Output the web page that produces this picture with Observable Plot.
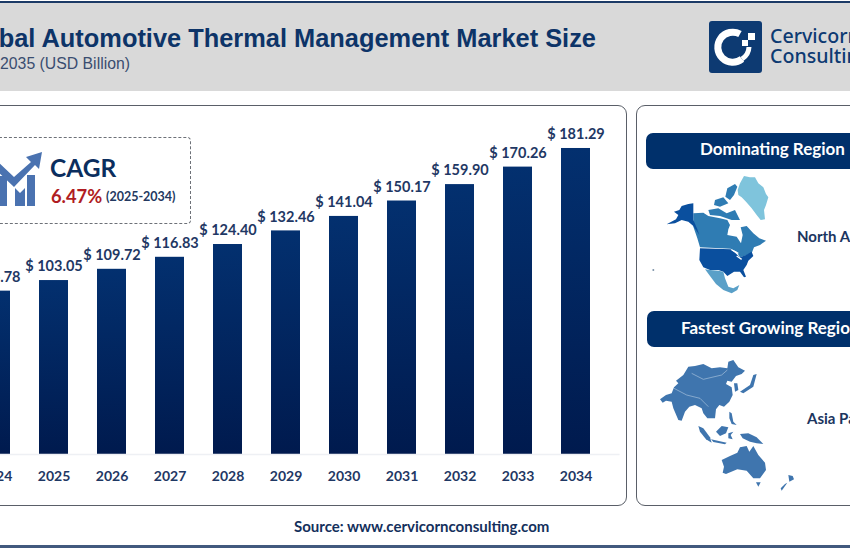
<!DOCTYPE html>
<html><head><meta charset="utf-8">
<script src="https://cdn.jsdelivr.net/npm/d3@7"></script>
<script src="https://cdn.jsdelivr.net/npm/@observablehq/plot@0.6"></script>
<style>
html,body{margin:0;padding:0;background:#fff;}
#page{position:relative;width:850px;height:550px;overflow:hidden;background:#fff;font-family:Lato,sans-serif;font-weight:700;color:#1f3864;}
#page>*{position:absolute;}
.t{white-space:nowrap;line-height:1;}
.pill{background:#00306b;border-radius:7px;}
.panel{border:1px solid #5a5f68;border-radius:9px;box-sizing:border-box;background:#fff;}
</style></head>
<body>
<div id="page">
  <div style="left:0;top:1px;width:850px;height:2px;background:#1b3a66"></div>
  <div style="left:0;top:3px;width:850px;height:88px;background:#d9d9d9"></div>
  <div class="t" style="right:254px;top:26px;font:700 25.4px/1 'Liberation Sans';color:#0d3468">Global Automotive Thermal Management Market Size</div>
  <div class="t" style="right:720px;top:56px;font:400 15.8px/1 'Liberation Sans';color:#3a4d70">2025 to 2035 (USD Billion)</div>

  <svg style="left:709px;top:21px" width="53" height="52" viewBox="0 0 53 52">
    <rect width="53" height="52" rx="3" fill="#0d3a72"/>
    <path d="M31 13 A15 15 0 1 0 33 38" fill="none" stroke="#fff" stroke-width="7"/>
    <rect x="39" y="12" width="7" height="7" fill="#fff"/><rect x="33" y="19" width="6" height="6" fill="#fff"/>
    <path d="M40 26 A15 15 0 0 1 33 38" fill="none" stroke="#fff" stroke-width="5"/>
  </svg>
  <div class="t" style="left:770px;top:26px;font:500 19.6px/1 'Noto Sans';color:#0d3a72">Cervicorn</div>
  <div class="t" style="left:770px;top:46px;font:500 19.6px/1 'Noto Sans';color:#0d3a72">Consulting</div>

  <div class="panel" style="left:-20px;top:105px;width:647px;height:401px"></div>
  <div class="panel" style="left:636px;top:105px;width:260px;height:401px"></div>

  <svg style="width:0;height:0"><defs><linearGradient id="barFill" x1="0" y1="0" x2="0" y2="1"><stop offset="0" stop-color="#03306f"/><stop offset="1" stop-color="#001a4e"/></linearGradient></defs></svg>
  <div id="chart" style="left:-60.5px;top:0"></div>

  <div style="left:-20px;top:137px;width:209px;height:85px;border:1px dashed #6d7178;border-radius:4px;background:#fff"></div>
  <svg style="left:0;top:150px" width="44" height="60" viewBox="0 0 44 60">
    <g fill="#4a72b0">
      <rect x="-3" y="26" width="10" height="30"/><path d="M15 38 L20 43 L25 38 V56 H15Z"/><rect x="27" y="25" width="8" height="31"/>
      <path d="M-4 10 L14 27 L31 12 L26 7 L42 2 L39 19 L35 15 L14 37 L-4 20Z"/>
    </g>
  </svg>
  <div class="t" style="left:50px;top:156px;font-size:24.5px;color:#0b2e5e">CAGR</div>
  <div class="t" style="left:51px;top:187px;font-size:18.3px;color:#b01c22">6.47%</div>
  <div class="t" style="left:106px;top:191px;font-size:12.5px;color:#24395f">(2025-2034)</div>

  <div class="pill" style="left:646px;top:133px;width:260px;height:36px"></div>
  <div class="t" style="left:700px;top:140px;font-size:17px;color:#fff">Dominating Region</div>
  <div class="pill" style="left:647px;top:311px;width:260px;height:36px"></div>
  <div class="t" style="left:681px;top:319px;font-size:17px;color:#fff">Fastest Growing Region</div>

  <svg style="left:640px;top:170px" width="150" height="130" viewBox="0 0 450 390">
    <path fill="#7fc4dc" d="M293 60 300 40 312 18 330 22 345 22 355 40 370 52 378 72 385 82 378 105 372 120 375 148 362 150 350 135 335 115 318 95 305 82 295 75Z"/>
    <g fill="#2f7cb3">
      <path d="M262 55 285 42 292 50 282 75 270 90 256 80Z"/>
      <path d="M225 90 250 82 265 100 240 110 222 105Z"/>
      <path d="M205 120 235 115 260 130 285 120 300 150 275 150 240 138 210 135Z"/>
      <path d="M160 130 190 128 205 138 240 145 262 150 270 165 265 178 262 195 290 200 303 220 308 195 302 172 320 168 340 190 358 205 378 212 360 225 342 232 335 250 312 258 300 262 290 245 272 236 180 232 172 205 160 170Z"/>
    </g>
    <path fill="#0a4f9e" d="M102 125 118 120 125 108 145 102 160 100 160 150 172 178 178 195 160 168 145 155 125 150 105 160 80 163 108 148 115 135Z"/>
    <path fill="#0a4f9e" d="M180 235 272 238 285 248 300 262 318 255 335 245 340 258 325 272 320 285 310 300 318 320 312 322 300 305 282 305 262 318 250 305 235 300 210 300 190 292 178 270Z"/>
    <path fill="none" stroke="#fff" stroke-width="4" d="M275 240 295 250M290 258 305 268"/>
    <path fill="#5aa0c8" d="M195 298 210 300 235 302 250 305 255 325 265 350 280 355 298 345 292 360 275 370 250 360 228 342 210 318Z"/>
    <circle cx="40" cy="300" r="3" fill="#7d93a8"/>
  </svg>
  <div class="t" style="left:797px;top:229px;font-size:15px;color:#1c3560">North America</div>

  <svg style="left:650px;top:350px" width="150" height="150" viewBox="0 0 450 450">
    <g fill="#3f75ae">
      <path d="M30 148 48 135 65 130 72 112 85 100 78 92 100 75 115 50 135 48 160 42 185 55 210 52 232 55 235 35 250 30 265 52 285 62 275 72 258 78 245 95 232 92 228 102 245 112 248 135 238 155 222 170 208 165 198 178 195 205 172 205 160 190 155 175 135 165 118 170 105 185 95 212 85 210 70 175 65 155 48 152 38 158Z"/>
      <path d="M252 100 262 100 265 120 255 125Z"/>
      <path d="M270 125 300 105 310 75 320 72 310 110 280 130Z"/>
      <path d="M145 228 160 235 180 262 185 278 168 268 150 245Z"/>
      <path d="M183 268 230 278 225 283 190 276Z"/>
      <path d="M198 245 215 228 235 232 228 250 210 258Z"/>
      <path d="M238 185 245 190 250 215 260 225 245 222 238 205Z"/>
      <path d="M235 250 250 245 242 255 248 268 235 265Z"/>
      <path d="M270 252 295 250 320 262 340 282 320 280 300 275 278 265Z"/>
      <path d="M215 330 240 318 262 308 270 292 290 288 298 305 310 288 325 315 345 338 348 360 330 385 310 385 290 362 262 358 228 372 218 368 222 350Z"/>
      <path d="M318 397 332 397 325 410Z"/>
      <path d="M415 375 428 378 432 388 418 395Z"/>
      <path d="M412 398 395 422 392 415 405 402Z"/>
    </g>
    <path fill="none" stroke="#a9c3dd" stroke-width="2" d="M125 70 160 88 215 75 232 60M72 115 110 135 150 145 175 170"/>
  </svg>
  <div class="t" style="left:807px;top:411px;font-size:15px;color:#1c3560">Asia Pacific</div>

  <div style="left:0;top:545px;width:850px;height:3px;background:#41597e"></div>
  <div class="t" style="left:294px;top:519px;font-size:15px;color:#14305c">Source: www.cervicornconsulting.com</div>
</div>
<script>
const years = [2024, 2025, 2026, 2027, 2028, 2029, 2030, 2031, 2032, 2033, 2034];
const marketSize = [96.78, 103.05, 109.72, 116.83, 124.40, 132.46, 141.04, 150.17, 159.90, 170.26, 181.29];
const rows = years.map((year, i) => ({year, value: marketSize[i]}));

const chart = Plot.plot({
  width: 700,
  height: 550,
  marginLeft: 11.5,
  marginRight: 20.4,
  marginTop: 116.4,
  marginBottom: 96,
  style: {background: "transparent", fontFamily: "Lato, sans-serif", overflow: "visible"},
  x: {domain: years, padding: 0.5},
  y: {domain: [0, 200], axis: null},
  marks: [
    Plot.barY(rows, {x: "year", y: "value", fill: "url(#barFill)"}),
    Plot.ruleY([0], {stroke: "#eef0f4", strokeWidth: 1.5}),
    Plot.text(rows, {x: "year", y: "value", text: d => `$ ${d.value.toFixed(2)}`, dy: -14, fontSize: 14.5, fontWeight: 700, fill: "#1f3864"}),
    Plot.axisX({tickSize: 0, tickPadding: 17, tickFormat: d => String(d), fontSize: 14, fontWeight: 700, fill: "#1f3864", label: null})
  ]
});
document.getElementById("chart").appendChild(chart);
</script>
</body></html>
